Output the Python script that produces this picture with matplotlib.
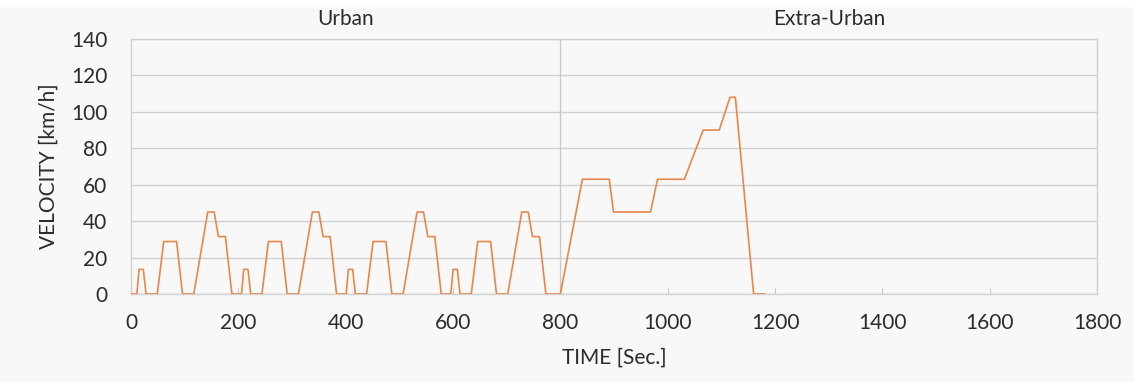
# NEDC style velocity profile (urban + extra-urban)
import matplotlib.pyplot as plt
from matplotlib.patches import Rectangle

# Data
time_s = [0, 11, 15, 23, 28, 49, 61, 85, 96, 117, 143, 155, 163, 176, 188,
          206, 210, 218, 223, 244, 256, 280, 291, 312, 338, 350, 358, 371, 383,
          401, 405, 413, 418, 439, 451, 475, 486, 507, 533, 545, 553, 566, 578,
          596, 600, 608, 613, 634, 646, 670, 681, 702, 728, 740, 748, 761, 773,
          800, 841, 891, 899, 968, 981, 1031, 1066, 1096, 1116, 1126, 1160, 1180]
velocity = [0, 0, 13.5, 13.5, 0, 0, 28.8, 28.8, 0, 0, 45, 45, 31.5, 31.5, 0,
            0, 13.5, 13.5, 0, 0, 28.8, 28.8, 0, 0, 45, 45, 31.5, 31.5, 0,
            0, 13.5, 13.5, 0, 0, 28.8, 28.8, 0, 0, 45, 45, 31.5, 31.5, 0,
            0, 13.5, 13.5, 0, 0, 28.8, 28.8, 0, 0, 45, 45, 31.5, 31.5, 0,
            0, 63, 63, 45, 45, 63, 63, 90, 90, 108, 108, 0, 0]
x_ticks = [0, 200, 400, 600, 800, 1000, 1200, 1400, 1600, 1800]
y_ticks = [0, 20, 40, 60, 80, 100, 120, 140]
phases = ['Urban', 'Extra-Urban']
phase_centers = [400, 1300]
phase_split = 800

plt.rcParams['font.family'] = ['Lato', 'DejaVu Sans']
text_color = '#2b2b2b'
fs = 15

fig = plt.figure(figsize=(11.34, 3.82), dpi=100, facecolor='#f8f8f8')
fig.patches.append(Rectangle((0, 0.982), 1, 0.02, transform=fig.transFigure,
                             facecolor='white', edgecolor='none'))
ax = fig.add_axes([0.1155, 0.2304, 0.852, 0.6675])
ax.set_facecolor('#f8f8f8')

ax.plot(time_s, velocity, color='#e8874a', linewidth=1.2, zorder=3)
ax.axvline(phase_split, color='#c8c8c8', linewidth=1, zorder=2)

ax.set_xlim(0, 1800)
ax.set_ylim(0, 140)
ax.set_xticks(x_ticks)
ax.set_yticks(y_ticks)
ax.grid(axis='y', color='#d0d0d0', linewidth=1)
ax.tick_params(axis='x', direction='in', length=4, color='#c8c8c8',
               labelsize=fs, labelcolor=text_color, pad=14)
ax.tick_params(axis='y', length=0, labelsize=fs, labelcolor=text_color, pad=17)
for s in ax.spines.values():
    s.set_color('#d0d0d0')
    s.set_linewidth(1)

ax.set_xlabel('TIME [Sec.]', fontsize=fs, color=text_color, labelpad=10)
ax.set_ylabel('VELOCITY [km/h]', fontsize=fs, color=text_color, labelpad=9)

for name, xc in zip(phases, phase_centers):
    ax.text(xc, 1.08, name, transform=ax.get_xaxis_transform(),
            ha='center', va='center', fontsize=fs, color=text_color)

plt.savefig('out.png', dpi=100, facecolor=fig.get_facecolor())
